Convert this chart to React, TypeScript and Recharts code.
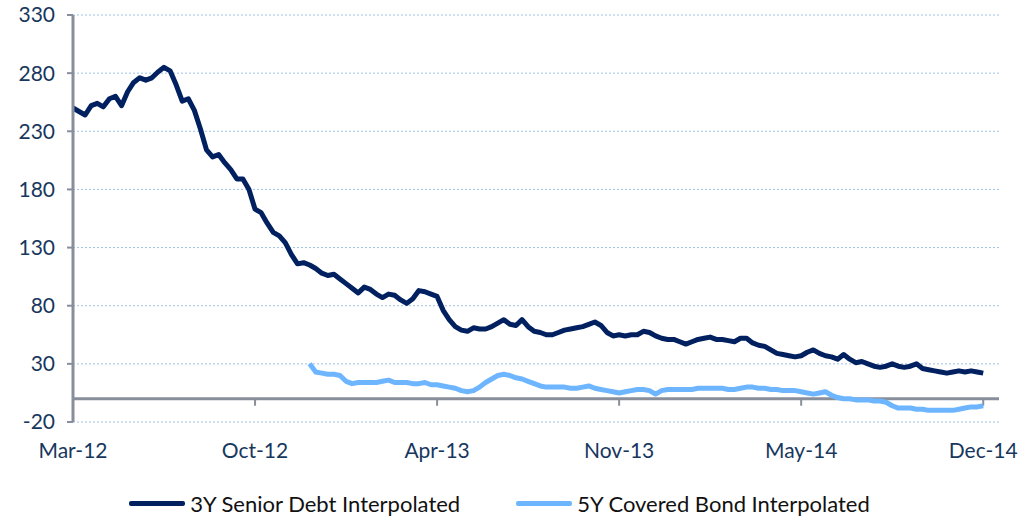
// Senior debt vs covered bond spreads, Mar-12 to Dec-14 (bp).
import * as React from 'react';
import { CartesianGrid, Legend, Line, LineChart, ReferenceLine, XAxis, YAxis } from 'recharts';

// x is the observation index; one axis label every 30 observations
const tickIndex = [0, 30, 60, 90, 120, 150];
const tickLabels = ['Mar-12', 'Oct-12', 'Apr-13', 'Nov-13', 'May-14', 'Dec-14'];
const yTicks = [-20, 30, 80, 130, 180, 230, 280, 330];

const seniorDebt = [
  250, 247, 244, 252, 254, 251, 258, 260, 252, 264,
  272, 276, 274, 276, 281, 285, 282, 270, 256, 258,
  248, 232, 214, 208, 210, 203, 197, 189, 189, 180,
  163, 160, 151, 143, 140, 134, 124, 116, 117, 115,
  112, 108, 106, 107, 103, 99, 95, 91, 96, 94,
  90, 87, 90, 89, 85, 82, 86, 93, 92, 90,
  88, 76, 68, 62, 59, 58, 61, 60, 60, 62,
  65, 68, 64, 63, 68, 62, 58, 57, 55, 55,
  57, 59, 60, 61, 62, 64, 66, 63, 57, 54,
  55, 54, 55, 55, 58, 57, 54, 52, 51, 51,
  49, 47, 49, 51, 52, 53, 51, 51, 50, 49,
  52, 52, 48, 46, 45, 42, 39, 38, 37, 36,
  37, 40, 42, 39, 37, 36, 34, 38, 34, 31,
  32, 30, 28, 27, 28, 30, 28, 27, 28, 30,
  26, 25, 24, 23, 22, 23, 24, 23, 24, 23,
  22,
];

// covered bond series only starts at observation 39
const coveredStart = 39;
const coveredBond = [
  30, 23, 22, 21, 21, 20, 15, 13, 14, 14,
  14, 14, 15, 16, 14, 14, 14, 13, 13, 14,
  12, 12, 11, 10, 9, 7, 6, 7, 10, 14,
  17, 20, 21, 20, 18, 17, 15, 13, 11, 10,
  10, 10, 10, 9, 9, 10, 11, 9, 8, 7,
  6, 5, 6, 7, 8, 8, 7, 4, 7, 8,
  8, 8, 8, 8, 9, 9, 9, 9, 9, 8,
  8, 9, 10, 10, 9, 9, 8, 8, 7, 7,
  7, 6, 5, 4, 5, 6, 3, 1, 0, 0,
  -1, -1, -1, -2, -2, -3, -6, -8, -8, -8,
  -9, -9, -10, -10, -10, -10, -10, -9, -8, -7,
  -7, -6,
];

const rows = seniorDebt.map((v, i) => ({
  i,
  senior: v,
  covered: i >= coveredStart ? coveredBond[i - coveredStart] : null,
}));

const FONT = 'Lato, "Open Sans", sans-serif';
const TEXT = '#17375E';
const AXIS = '#898E9B';

function LegendContent({ payload }: any) {
  return (
    <div style={{ display: 'flex', justifyContent: 'center', alignItems: 'center', height: 31, fontFamily: FONT, fontSize: 22, color: '#111' }}>
      {(payload ?? []).map((p: any, k: number) => (
        <div key={p.value} style={{ display: 'flex', alignItems: 'center', marginLeft: k ? 56 : 0 }}>
          <span style={{ display: 'inline-block', width: 56, height: 5, borderRadius: 2, background: p.color, marginRight: 5 }} />
          <span>{p.value}</span>
        </div>
      ))}
    </div>
  );
}

export default function App() {
  return (
    <div style={{ position: 'absolute', left: 0, top: 0, background: '#fff' }}>
      <LineChart width={1034} height={519} data={rows} margin={{ top: 15, right: 35, bottom: 0, left: 0 }}>
        <CartesianGrid horizontal vertical={false} stroke='#9DC3E6' strokeDasharray='2 2' />
        <XAxis
          dataKey='i'
          type='number'
          domain={[0, 152.6]}
          ticks={tickIndex}
          tickFormatter={(v: number) => tickLabels[tickIndex.indexOf(v)] ?? ''}
          axisLine={false}
          tickLine={false}
          tickMargin={15}
          height={66}
          tick={{ fill: TEXT, fontSize: 21, fontFamily: FONT }}
        />
        <YAxis
          domain={[-20, 330]}
          ticks={yTicks}
          width={73}
          axisLine={{ stroke: AXIS, strokeWidth: 3 }}
          tickLine={{ stroke: AXIS, strokeWidth: 2 }}
          tickSize={6}
          tickMargin={12}
          tick={{ fill: TEXT, fontSize: 21, fontFamily: FONT }}
        />
        <ReferenceLine y={0} stroke={AXIS} strokeWidth={3} />
        {tickIndex.slice(1).map((t) => (
          <ReferenceLine key={t} segment={[{ x: t, y: 0 }, { x: t, y: -6 }]} stroke={AXIS} strokeWidth={2} />
        ))}
        <Legend verticalAlign='bottom' height={31} content={<LegendContent />} />
        <Line
          name='3Y Senior Debt Interpolated'
          dataKey='senior'
          stroke='#002060'
          strokeWidth={5}
          dot={false}
          type='linear'
          strokeLinejoin='round'
          isAnimationActive={false}
        />
        <Line
          name='5Y Covered Bond Interpolated'
          dataKey='covered'
          stroke='#6DB6FF'
          strokeWidth={5}
          dot={false}
          type='linear'
          strokeLinejoin='round'
          isAnimationActive={false}
        />
      </LineChart>
    </div>
  );
}
